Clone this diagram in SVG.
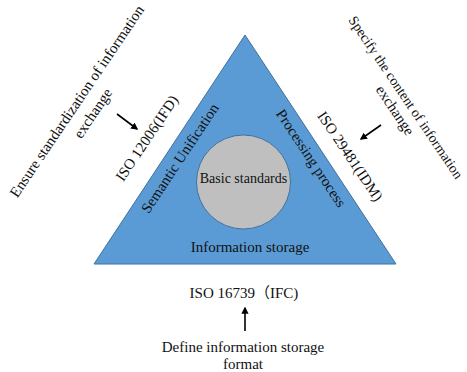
<svg xmlns="http://www.w3.org/2000/svg" width="467" height="372" viewBox="0 0 467 372">
<style>
text{font-family:"Liberation Serif","Noto Sans CJK SC",serif;font-size:15px;fill:#111;text-anchor:middle}
.conn{stroke:#000;stroke-width:1.6;fill:none}
</style>
<defs>
<marker id="ah" viewBox="0 0 10 10" refX="8" refY="5" markerWidth="4.5" markerHeight="4.5" orient="auto" markerUnits="strokeWidth">
<path d="M0,0 L10,5 L0,10 z" fill="#000"/>
</marker>
</defs>
<rect width="467" height="372" fill="#fff"/>
<g id="triangle">
<polygon points="245,35 396,264 94,264" fill="#5b9bd5" stroke="#41719c" stroke-width="1"/>
<text transform="translate(184,161) rotate(-56.5)">Semantic Unification</text>
<text transform="translate(307,161) rotate(56.5)">Processing process</text>
<text x="250" y="252">Information storage</text>
</g>
<g id="basic">
<circle cx="243.5" cy="182" r="47" fill="#bfbfbf" stroke="#41719c" stroke-width="1"/>
<text x="243.5" y="183" style="font-size:14px">Basic standards</text>
</g>
<g id="ifd">
<text transform="translate(151,141) rotate(-56)">ISO 12006(IFD)</text>
<text transform="translate(81,104) rotate(-56)">Ensure standardization of information</text>
<text transform="translate(97,116) rotate(-56)">exchange</text>
</g>
<g id="idm">
<text transform="translate(346,159) rotate(56)">ISO 29481(IDM)</text>
<text transform="translate(402,100) rotate(56)" style="font-size:14px">Specify the content of information</text>
<text transform="translate(391,113) rotate(56)">exchange</text>
</g>
<g id="ifc">
<text x="244" y="298">ISO 16739（IFC)</text>
<text x="243" y="352">Define information storage</text>
<text x="243" y="369">format</text>
</g>
<g id="connectors">
<line class="conn" x1="117" y1="114" x2="137" y2="129" marker-end="url(#ah)"/>
<line class="conn" x1="381" y1="125" x2="361" y2="139" marker-end="url(#ah)"/>
<line class="conn" x1="245" y1="331" x2="245" y2="308" marker-end="url(#ah)"/>
</g>
</svg>
